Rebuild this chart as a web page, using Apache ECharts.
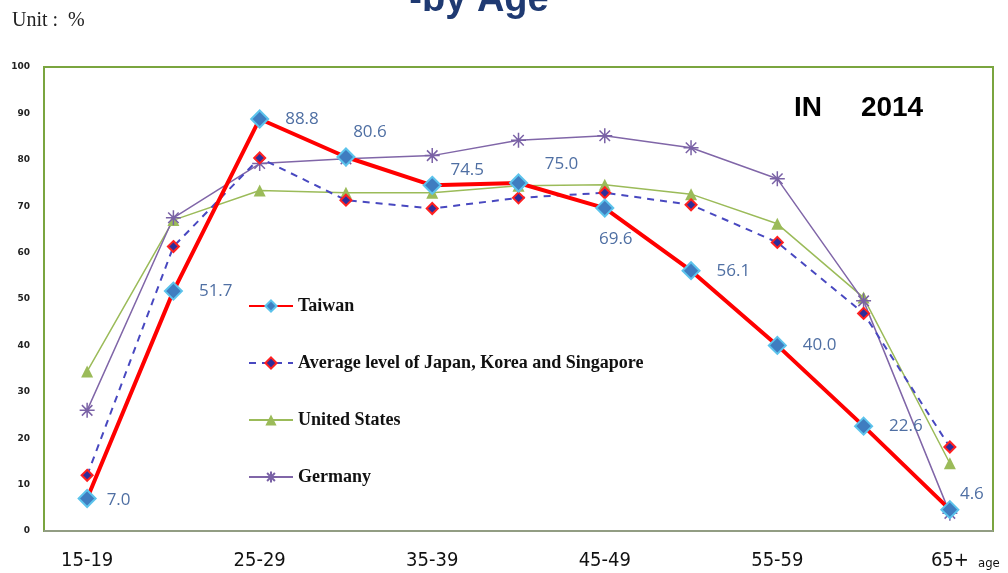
<!DOCTYPE html>
<html>
<head>
<meta charset="utf-8">
<script src="https://cdn.jsdelivr.net/npm/echarts@6/dist/echarts.min.js"></script>
<style>
html,body{margin:0;padding:0;background:#fff;}
#chart{width:1008px;height:573px;}
</style>
</head>
<body>
<div id="chart"></div>
<script>
// ---- data ----
const categories = ['15-19','20-24','25-29','30-34','35-39','40-44','45-49','50-54','55-59','60-64','65+'];
const taiwan   = [7.0, 51.7, 88.8, 80.6, 74.5, 75.0, 69.6, 56.1, 40.0, 22.6, 4.6];
const avgJKS   = [12.0, 61.3, 80.4, 71.3, 69.5, 71.8, 72.9, 70.3, 62.2, 46.9, 18.1];
const usa      = [34.4, 67.0, 73.4, 72.9, 72.9, 74.4, 74.6, 72.6, 66.2, 50.3, 14.6];
const germany  = [26.0, 67.5, 79.2, 80.2, 80.9, 84.2, 85.2, 82.6, 75.9, 49.6, 3.8];
const yTicks   = [0,10,20,30,40,50,60,70,80,90,100];
const seriesNames = ['Taiwan', 'Average level of Japan, Korea and Singapore', 'United States', 'Germany'];

// label placement for Taiwan values (style only)
const tLabelPos = [
  {position:'right', offset:[-2,2]},
  {position:'right', offset:[4,0]},
  {position:'right', offset:[4,0]},
  {position:'top', offset:[24,5]},
  {position:'top', offset:[35,15]},
  {position:'top', offset:[43,11]},
  {position:'bottom', offset:[11,1]},
  {position:'right', offset:[4,0]},
  {position:'right', offset:[4,0]},
  {position:'right', offset:[4,0]},
  {position:'top', offset:[22,15]}
];

const chart = echarts.init(document.getElementById('chart'));
const asterisk = 'path://M0,5L10,5M5,0L5,10M1.5,1.5L8.5,8.5M8.5,1.5L1.5,8.5';
const labelStyle = {fontSize:17, color:'#4F6FA3', fontFamily:'Open Sans, sans-serif', distance:12};

chart.setOption({
  animation:false,
  grid:{left:44, right:15, top:67, bottom:42, show:true, borderColor:'#7AA53F', borderWidth:2, containLabel:false},
  legend:{
    orient:'vertical', left:243, top:292, itemGap:39, itemWidth:44, itemHeight:14,
    data:seriesNames,
    textStyle:{fontFamily:'Liberation Serif, serif', fontWeight:'bold', fontSize:18, color:'#111'}
  },
  xAxis:{
    type:'category', data:categories, boundaryGap:true,
    axisLine:{show:true, lineStyle:{color:'#9A9A9A', width:1.5}},
    axisTick:{show:false},
    axisLabel:{interval:1, margin:20, fontSize:20, color:'#111', fontFamily:'DejaVu Sans Condensed, sans-serif'},
    splitLine:{show:false}
  },
  yAxis:{
    type:'value', min:0, max:100, interval:10,
    axisLine:{show:false}, axisTick:{show:false}, splitLine:{show:false},
    axisLabel:{margin:14, fontSize:9, fontWeight:'bold', color:'#222', fontFamily:'DejaVu Sans, sans-serif',
      formatter:function(v){return yTicks.indexOf(v)>=0 ? String(v) : '';}}
  },
  graphic:[
    {type:'text', left:12, top:11, style:{text:'Unit :  %', fontSize:20, fontFamily:'Liberation Serif, serif', fill:'#222'}},
    {type:'text', x:479, y:-18, style:{text:'-by Age', fontSize:38, fontWeight:'bold', fontFamily:'Liberation Sans, Arial, sans-serif', fill:'#1F3A72', align:'center', verticalAlign:'top'}},
    {type:'text', x:794, y:94, style:{text:'IN     2014', fontSize:28, fontWeight:'bold', fontFamily:'Liberation Sans, Arial, sans-serif', fill:'#000'}},
    {type:'text', x:978, y:557, style:{text:'age', fontSize:13, fontFamily:'DejaVu Sans Condensed, sans-serif', fill:'#111'}}
  ],
  series:[
    {
      name:seriesNames[1], type:'line', data:avgJKS, z:3,
      symbol:'diamond', symbolSize:11,
      lineStyle:{color:'#4848C0', width:2, type:[7,6]},
      itemStyle:{color:'#2E2E9A', borderColor:'#FF2020', borderWidth:2},
      emphasis:{disabled:true}
    },
    {
      name:seriesNames[2], type:'line', data:usa, z:2,
      symbol:'triangle', symbolSize:12,
      lineStyle:{color:'#9BBB59', width:1.5},
      itemStyle:{color:'#9BBB59'},
      emphasis:{disabled:true}
    },
    {
      name:seriesNames[3], type:'line', data:germany, z:2,
      symbol:asterisk, symbolSize:15,
      lineStyle:{color:'#8066A8', width:1.5},
      itemStyle:{color:'none', borderColor:'#7A62A6', borderWidth:1.5},
      emphasis:{disabled:true}
    },
    {
      name:seriesNames[0], type:'line', z:5,
      data:taiwan.map(function(v,i){
        return {value:v, label:Object.assign({show:true}, tLabelPos[i])};
      }),
      symbol:'diamond', symbolSize:17,
      lineStyle:{color:'#FF0000', width:4},
      itemStyle:{color:'#3F7DC0', borderColor:'#5CC3EC', borderWidth:2},
      label:Object.assign({show:true, formatter:function(p){return p.value.toFixed(1);}}, labelStyle),
      emphasis:{disabled:true}
    }
  ]
});
</script>
</body>
</html>
